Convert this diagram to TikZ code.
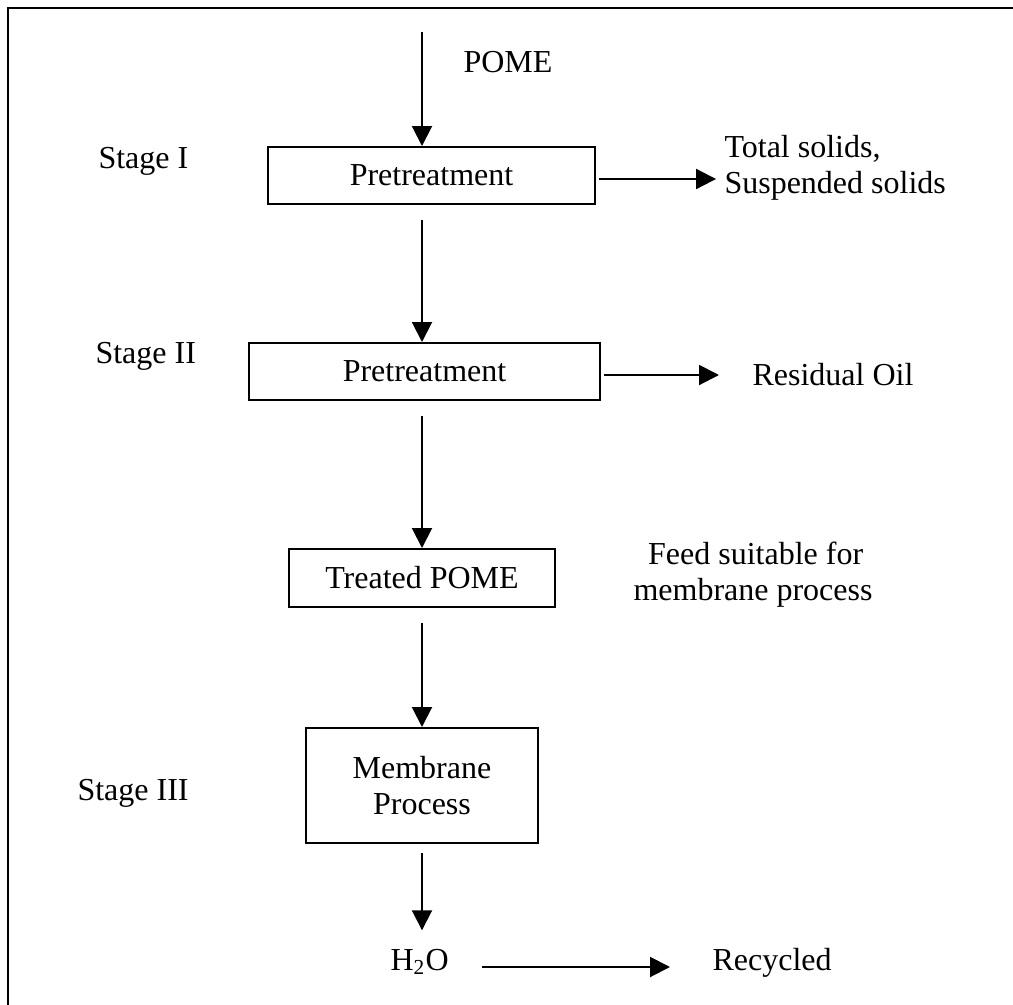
\documentclass[tikz,border=0pt]{standalone}
\usepackage{fontspec}
\setmainfont{Liberation Serif}
\usetikzlibrary{arrows.meta}
\begin{document}
\begin{tikzpicture}[x=0.375pt,y=-0.375pt,
  font=\fontsize{12pt}{13.5pt}\selectfont,
  boxnode/.style={draw,line width=0.75pt,inner sep=0pt,align=center},
  txt/.style={inner sep=0pt,align=left},
  arr/.style={line width=0.75pt,-{Triangle[length=7.5pt,width=7.5pt]}}]
\useasboundingbox (0,0) rectangle (1013,1005);
\clip (0,0) rectangle (1013,1005);
\draw[line width=0.95pt] (8,8) rectangle (1040,1040);
% boxes
\node[boxnode,minimum width=327*0.375pt,minimum height=57*0.375pt] (box1) at (431.5,175.5) {Pretreatment};
\node[boxnode,minimum width=351*0.375pt,minimum height=57*0.375pt] (box2) at (424.5,371.5) {Pretreatment};
\node[boxnode,minimum width=266*0.375pt,minimum height=58*0.375pt] (box3) at (422,578) {Treated POME};
\node[boxnode,minimum width=232*0.375pt,minimum height=115*0.375pt] (box4) at (422,785.5) {Membrane\\Process};
% texts
\node[txt,anchor=base west] (pome) at (463,72) {POME};
\node[txt,anchor=base west] (st1) at (98,168) {Stage I};
\node[txt,anchor=base west] (st2) at (95,363) {Stage II};
\node[txt,anchor=base west] (st3) at (77,800) {Stage III};
\node[txt,anchor=base west] (ts) at (724,193) {Total solids,\\Suspended solids};
\node[txt,anchor=base west] (ro) at (752,385) {Residual Oil};
\node[txt,anchor=base west] (feed) at (633,600) {\hspace*{5.5pt}Feed suitable for\\membrane process};
\node[txt,anchor=base west] (h2o) at (390,970) {H\textsubscript{2}O};
\node[txt,anchor=base west] (rec) at (712,970) {Recycled};
% arrows
\coordinate (top) at (422,32);
\draw[arr] (top) -- (top |- box1.north);
\draw[arr,shorten <=5.6pt] (top |- box1.south) -- (top |- box2.north);
\draw[arr,shorten <=5.6pt] (top |- box2.south) -- (top |- box3.north);
\draw[arr,shorten <=5.6pt] (top |- box3.south) -- (top |- box4.north);
\draw[arr,shorten <=3.4pt,shorten >=6.75pt] (top |- box4.south) -- (top |- h2o.north);
\draw[arr,shorten >=4.1pt] ([shift={(3,3.5)}]box1.east) -- ([shift={(3,3.5)}]box1.east -| ts.west);
\draw[arr,shorten >=13.5pt] ([shift={(3,3.5)}]box2.east) -- ([shift={(3,3.5)}]box2.east -| ro.west);
\draw[arr] ([shift={(33,-3)}]h2o.base east) -- ([shift={(-42,-3)}]rec.base west);
\end{tikzpicture}
\end{document}
